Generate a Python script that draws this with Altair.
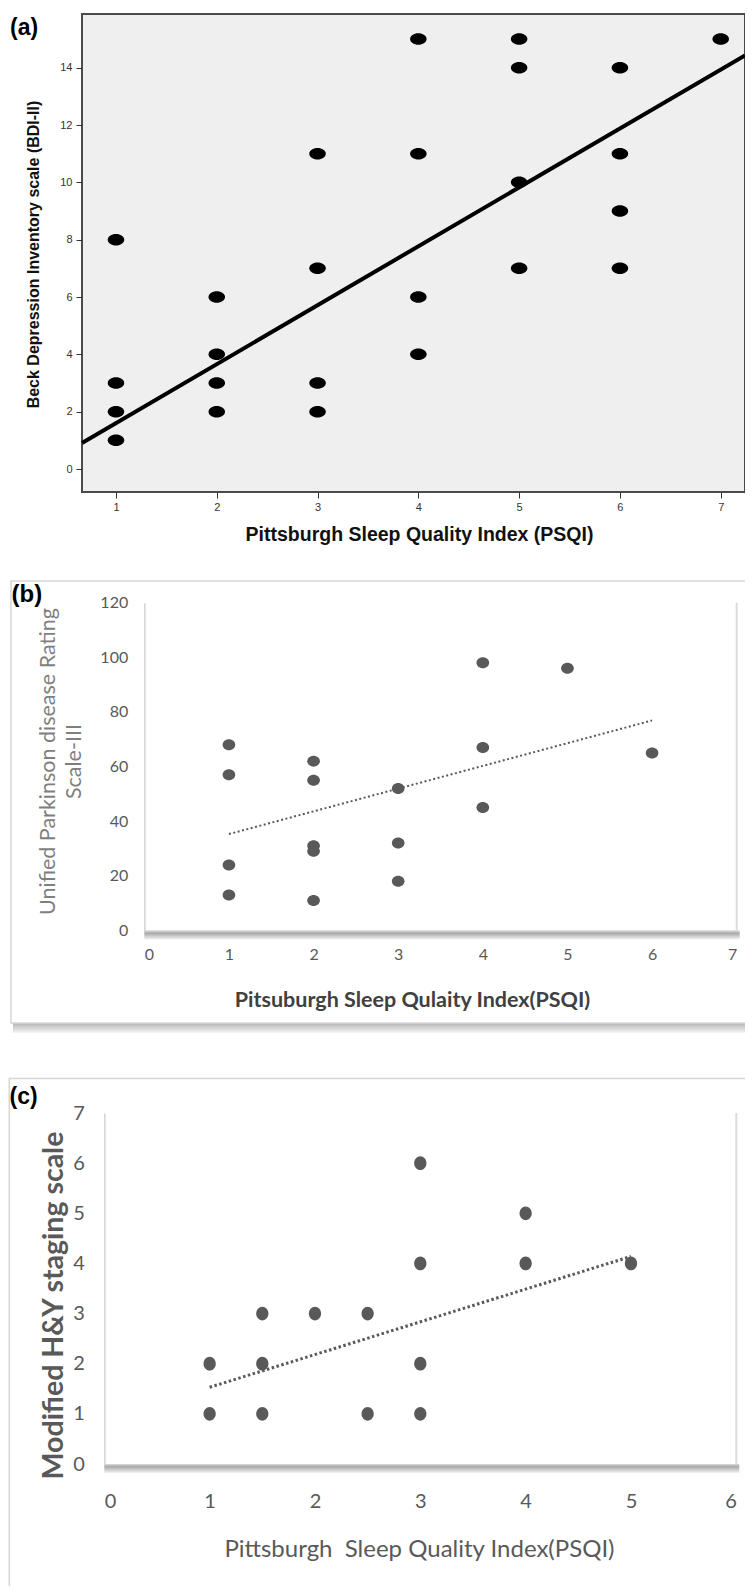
import altair as alt

# ---------------- data ----------------
# (a) BDI-II vs PSQI
a_psqi = [1, 1, 1, 1, 2, 2, 2, 2, 3, 3, 3, 3, 4, 4, 4, 4, 5, 5, 5, 5, 6, 6, 6, 6, 7]
a_bdi = [8, 3, 2, 1, 6, 4, 3, 2, 11, 7, 3, 2, 15, 11, 6, 4, 15, 14, 10, 7, 14, 11, 9, 7, 15]
a_fit_x = [0.663, 7.241]
a_fit_y = [0.91, 14.43]

# (b) UPDRS-III vs PSQI
b_psqi = [1, 1, 1, 1, 2, 2, 2, 2, 2, 3, 3, 3, 4, 4, 4, 5, 6]
b_updrs = [68, 57, 24, 13, 62, 55, 31, 29, 11, 52, 32, 18, 98, 67, 45, 96, 65]
b_fit_x = [1, 6]
b_fit_y = [35.3, 76.9]

# (c) Modified H&Y vs PSQI
c_psqi = [1, 1, 1.5, 1.5, 1.5, 2, 2.5, 2.5, 3, 3, 3, 3, 4, 4, 5]
c_hy = [2, 1, 3, 2, 1, 3, 3, 1, 6, 4, 2, 1, 5, 4, 4]
c_fit_x = [1, 5]
c_fit_y = [1.53, 4.14]

a_xticks = [1, 2, 3, 4, 5, 6, 7]
a_yticks = [0, 2, 4, 6, 8, 10, 12, 14]
b_xticks = [0, 1, 2, 3, 4, 5, 6, 7]
b_yticks = [0, 20, 40, 60, 80, 100, 120]
c_xticks = [0, 1, 2, 3, 4, 5, 6]
c_yticks = [0, 1, 2, 3, 4, 5, 6, 7]

# ---------------- layout ----------------
W, H = 737, 1578
ARIAL = "Liberation Sans"
CAL = "Lato"
DGRAY = "#595959"

def rows(xs, ys):
    return [{"x": x, "y": y} for x, y in zip(xs, ys)]

one = alt.Data(values=[{}])

# ---------- panel (a) ----------
xs_a = alt.Scale(domain=[0.663, 7.241], range=[74, 737], nice=False, zero=False)
ys_a = alt.Scale(domain=[-0.802, 15.873], range=[484, 6], nice=False, zero=False)
xax_a = alt.Axis(orient="bottom", offset=484 - H, values=a_xticks, domain=False, grid=False,
                 zindex=2,
                 tickSize=6, tickColor="#333333", labelPadding=3, labelFont=ARIAL,
                 labelFontSize=11, labelColor="#333333",
                 title="Pittsburgh Sleep Quality Index (PSQI)", titleFont=ARIAL,
                 titleFontSize=19.5, titleFontWeight="bold", titleColor="#111111",
                 titleX=411, titleY=42, titleAlign="center", titleBaseline="middle")
yax_a = alt.Axis(orient="left", offset=-74, values=a_yticks, domain=False, grid=False,
                 zindex=2,
                 tickSize=6, tickColor="#333333", labelPadding=4, labelFont=ARIAL,
                 labelFontSize=11, labelColor="#333333",
                 title="Beck Depression Inventory scale (BDI-II)", titleFont=ARIAL,
                 titleFontSize=16, titleFontWeight="bold", titleColor="#111111",
                 titleX=-48.4, titleY=246, titleAngle=270, titleAlign="center",
                 titleBaseline="middle")

frame_a = alt.Chart(one).mark_rect(fill="#efefef", stroke="#4a4a4a", strokeWidth=2).encode(
    x=alt.X(datum=0.663, scale=xs_a, axis=None),
    x2=alt.X2(datum=7.241),
    y=alt.Y(datum=-0.802, scale=ys_a, axis=None),
    y2=alt.Y2(datum=15.873),
)
pts_a = alt.Chart(alt.Data(values=rows(a_psqi, a_bdi))).mark_point(
    shape="M-1,0A1,0.7,0,1,0,1,0A1,0.7,0,1,0,-1,0Z", size=272, filled=True,
    fill="black", opacity=1, strokeWidth=0
).encode(
    x=alt.X("x:Q", scale=xs_a, axis=xax_a),
    y=alt.Y("y:Q", scale=ys_a, axis=yax_a),
)
fit_a = alt.Chart(alt.Data(values=rows(a_fit_x, a_fit_y))).mark_line(
    color="black", strokeWidth=4
).encode(
    x=alt.X("x:Q", scale=xs_a, axis=None),
    y=alt.Y("y:Q", scale=ys_a, axis=None),
)

# ---------- panel (b) ----------
xs_b = alt.Scale(domain=[0, 7], range=[136.3, 728.7], nice=False, zero=False)
ys_b = alt.Scale(domain=[0, 120], range=[922.5, 594.7], nice=False, zero=False)
xax_b = alt.Axis(orient="bottom", offset=922.5 - H, values=b_xticks, grid=False, zindex=2,
                 domain=True, domainColor="#d4d4d4", domainWidth=1,
                 ticks=False, tickSize=0, labelPadding=16, labelFont=CAL,
                 labelFontSize=16, labelColor=DGRAY,
                 title="Pitsuburgh Sleep Qulaity Index(PSQI)", titleFont=CAL,
                 titleFontSize=21.5, titleFontWeight="bold", titleColor="#404040",
                 titleX=404, titleY=69.5, titleAlign="center", titleBaseline="middle")
yax_b = alt.Axis(orient="left", offset=-136.3, values=b_yticks, grid=False, zindex=2,
                 domain=True, domainColor="#d4d4d4", domainWidth=1.5,
                 ticks=False, tickSize=0, labelPadding=16.6, labelFont=CAL,
                 labelFontSize=16, labelColor=DGRAY,
                 title=["Unified Parkinson disease Rating", "Scale-III"], titleFont=CAL,
                 titleFontSize=21.5, titleFontWeight="normal", titleColor="#7f7f7f",
                 titleLineHeight=26.5, titleX=-96.3, titleY=753, titleAngle=270,
                 titleAlign="center", titleBaseline="middle")

shadow_grad = alt.LinearGradient(
    gradient="linear", x1=0, y1=0, x2=0, y2=1,
    stops=[alt.GradientStop(offset=0, color="#d8d8d8"),
           alt.GradientStop(offset=0.3, color="#a9a9a9"),
           alt.GradientStop(offset=1, color="#f4f4f4")])

xshadow_b = alt.Chart(one).mark_rect(fill=shadow_grad, y2Offset=9, x2Offset=3).encode(
    x=alt.X(datum=0, scale=xs_b, axis=None), x2=alt.X2(datum=7),
    y=alt.Y(datum=0, scale=ys_b, axis=None), y2=alt.Y2(datum=0),
)
redge_b = alt.Chart(one).mark_rule(color="#dcdcdc", strokeWidth=2).encode(
    x=alt.X(datum=7, scale=xs_b, axis=None),
    y=alt.Y(datum=0, scale=ys_b, axis=None), y2=alt.Y2(datum=120),
)
pts_b = alt.Chart(alt.Data(values=rows(b_psqi, b_updrs))).mark_point(
    shape="M-1,0A1,0.87,0,1,0,1,0A1,0.87,0,1,0,-1,0Z", size=160, filled=True,
    fill=DGRAY, opacity=1, strokeWidth=0
).encode(
    x=alt.X("x:Q", scale=xs_b, axis=xax_b),
    y=alt.Y("y:Q", scale=ys_b, axis=yax_b),
)
fit_b = alt.Chart(alt.Data(values=rows(b_fit_x, b_fit_y))).mark_line(
    color=DGRAY, strokeWidth=2, strokeDash=[2, 2.5]
).encode(
    x=alt.X("x:Q", scale=xs_b, axis=None),
    y=alt.Y("y:Q", scale=ys_b, axis=None),
)

# ---------- panel (c) ----------
xs_c = alt.Scale(domain=[0, 6], range=[96.3, 728.3], nice=False, zero=False)
ys_c = alt.Scale(domain=[0, 7], range=[1456, 1105], nice=False, zero=False)
xax_c = alt.Axis(orient="bottom", offset=1456 - H, values=c_xticks, grid=False, zindex=2,
                 domain=True, domainColor="#d4d4d4", domainWidth=1,
                 ticks=False, tickSize=0, labelPadding=27, labelFont=CAL,
                 labelFontSize=20, labelColor=DGRAY,
                 title="Pittsburgh\u00a0 Sleep Quality Index(PSQI)", titleFont=CAL,
                 titleFontSize=24, titleFontWeight="normal", titleColor=DGRAY,
                 titleX=411, titleY=85.5, titleAlign="center", titleBaseline="middle")
yax_c = alt.Axis(orient="left", offset=-96.3, values=c_yticks, grid=False, zindex=2,
                 domain=True, domainColor="#d4d4d4", domainWidth=1.5,
                 ticks=False, tickSize=0, labelPadding=20, labelFont=CAL,
                 labelFontSize=20, labelColor=DGRAY,
                 title="Modified H&Y staging scale", titleFont=CAL,
                 titleFontSize=28.5, titleFontWeight="bold", titleColor=DGRAY,
                 titleX=-51.3, titleY=1297, titleAngle=270, titleAlign="center",
                 titleBaseline="middle")

xshadow_c = alt.Chart(one).mark_rect(fill=shadow_grad, y2Offset=9, x2Offset=3).encode(
    x=alt.X(datum=0, scale=xs_c, axis=None), x2=alt.X2(datum=6),
    y=alt.Y(datum=0, scale=ys_c, axis=None), y2=alt.Y2(datum=0),
)
redge_c = alt.Chart(one).mark_rule(color="#dcdcdc", strokeWidth=2).encode(
    x=alt.X(datum=6, scale=xs_c, axis=None),
    y=alt.Y(datum=0, scale=ys_c, axis=None), y2=alt.Y2(datum=7),
)
pts_c = alt.Chart(alt.Data(values=rows(c_psqi, c_hy))).mark_point(
    shape="M-1,0A1,1.12,0,1,0,1,0A1,1.12,0,1,0,-1,0Z", size=150, filled=True,
    fill=DGRAY, opacity=1, strokeWidth=0
).encode(
    x=alt.X("x:Q", scale=xs_c, axis=xax_c),
    y=alt.Y("y:Q", scale=ys_c, axis=yax_c),
)
fit_c = alt.Chart(alt.Data(values=rows(c_fit_x, c_fit_y))).mark_line(
    color=DGRAY, strokeWidth=3, strokeDash=[2.5, 2.5]
).encode(
    x=alt.X("x:Q", scale=xs_c, axis=None),
    y=alt.Y("y:Q", scale=ys_c, axis=None),
)

# ---------- decorative boxes & panel letters ----------
box_grad = alt.LinearGradient(
    gradient="linear", x1=0, y1=0, x2=0, y2=1,
    stops=[alt.GradientStop(offset=0, color="#b5b5b5"),
           alt.GradientStop(offset=1, color="#f6f6f6")])
box_b_shadow = alt.Chart(one).mark_rect(fill=box_grad).encode(
    x=alt.value(5), x2=alt.value(W + 20), y=alt.value(1015), y2=alt.value(1025))
box_b = alt.Chart(one).mark_rect(fill="white", stroke="#d6d6d6", strokeWidth=1.5).encode(
    x=alt.value(3), x2=alt.value(W + 20), y=alt.value(573), y2=alt.value(1015))
box_c = alt.Chart(one).mark_rect(fill="white", stroke="#d6d6d6", strokeWidth=1.5).encode(
    x=alt.value(1.3), x2=alt.value(W + 20), y=alt.value(1070.5), y2=alt.value(H + 20))

lab_a = alt.Chart(one).mark_text(text="(a)", font=ARIAL, fontSize=23, fontWeight="bold",
                                 align="left", baseline="middle", color="black").encode(
    x=alt.value(2), y=alt.value(20))
lab_b = alt.Chart(one).mark_text(text="(b)", font=ARIAL, fontSize=24, fontWeight="bold",
                                 align="left", baseline="middle", color="black").encode(
    x=alt.value(3.5), y=alt.value(587))
lab_c = alt.Chart(one).mark_text(text="(c)", font=ARIAL, fontSize=23, fontWeight="bold",
                                 align="left", baseline="middle", color="black").encode(
    x=alt.value(1.6), y=alt.value(1089))

chart = alt.layer(
    box_b_shadow, box_b, box_c,
    frame_a, fit_a, pts_a,
    xshadow_b, redge_b, fit_b, pts_b,
    xshadow_c, redge_c, fit_c, pts_c,
    lab_a, lab_b, lab_c,
).resolve_scale(
    x="independent", y="independent"
).resolve_axis(
    x="independent", y="independent"
).properties(
    width=W, height=H, padding=0,
    autosize=alt.AutoSizeParams(type="none"),
).configure_view(stroke=None)

chart.save("out.html", embed_options={"renderer": "svg", "actions": False})
